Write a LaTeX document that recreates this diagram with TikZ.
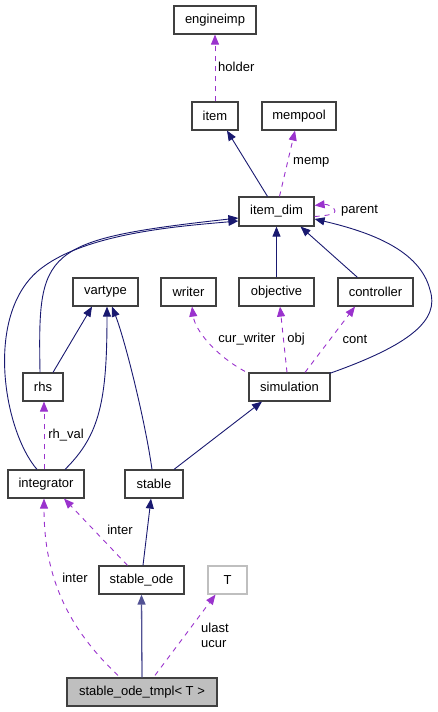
\documentclass[tikz,border=0pt]{standalone}
\usepackage{fontspec}
\setmainfont{Liberation Sans}
\usetikzlibrary{arrows.meta}
\definecolor{navyc}{HTML}{191970}
\definecolor{purp}{HTML}{9A32CD}
\definecolor{boxc}{HTML}{404040}
\tikzset{
  box/.style={draw=boxc, line width=1.2pt, fill=white, minimum height=28pt, inner sep=0pt, font=\fontsize{13}{15}\selectfont},
  inh/.style={draw=navyc, line width=0.9pt, -{Triangle[length=10pt,width=8pt]}},
  usage/.style={draw=purp, line width=0.9pt, dash pattern=on 5pt off 5pt, -{Triangle[length=10pt,width=8pt]}},
  lbl/.style={font=\fontsize{13}{15}\selectfont, inner sep=0pt, text=black}
}
\begin{document}
\begin{tikzpicture}[x=1pt,y=-1pt]
\useasboundingbox (0,0) rectangle (437,712);
% nodes
\node[box, minimum width=82pt] (engineimp) at (215,20) {engineimp};
\node[box, minimum width=46pt] (item) at (215,116) {item};
\node[box, minimum width=74pt] (mempool) at (299,116) {mempool};
\node[box, minimum width=75pt, minimum height=29pt] (itemdim) at (276.5,211.5) {item\_dim};
\node[box, minimum width=65pt] (vartype) at (105.5,292) {vartype};
\node[box, minimum width=55pt] (writer) at (188.5,292) {writer};
\node[box, minimum width=75pt] (objective) at (276.5,292) {objective};
\node[box, minimum width=75pt] (controller) at (375.5,292) {controller};
\node[box, minimum width=40pt] (rhs) at (43,387) {rhs};
\node[box, minimum width=81pt] (simulation) at (289.5,387) {simulation};
\node[box, minimum width=76pt] (integrator) at (46,484) {integrator};
\node[box, minimum width=58pt] (stable) at (154,484) {stable};
\node[box, minimum width=85pt] (stableode) at (141.5,580) {stable\_ode};
\node[box, draw=black!25, minimum width=39pt] (T) at (227.5,580) {T};
\node[box, fill=black!25, minimum width=150pt] (tmpl) at (142,692) {stable\_ode\_tmpl< T >};

% edges
\draw[usage] (item.north) -- (engineimp.south);
\node[lbl, anchor=west] (lholder) at (218,67) {holder};

\draw[inh] ([xshift=-9pt]itemdim.north) -- ([xshift=12pt]item.south);
\draw[usage] ([xshift=3pt]itemdim.north) -- ([xshift=-4pt]mempool.south);
\node[lbl, anchor=west] (lmemp) at (293,162) {memp};

\draw[usage] ([yshift=-5pt]itemdim.east) .. controls (322,216) and (335,215) .. (335,211) .. controls (335,207) and (327,204) .. ([yshift=6pt]itemdim.east);
\node[lbl, anchor=west] (lparent) at (341,211) {parent};

% rhs -> item_dim
\draw[inh] ([xshift=-3pt]rhs.north) .. controls (38,250) and (40,240) .. ([yshift=-6.5pt]itemdim.west);
% integrator -> item_dim
\draw[inh] ([xshift=-9pt]integrator.north) .. controls (3,430) and (-17,310) .. (43,267) .. controls (89,233) and (180,226) .. ([yshift=-9.5pt]itemdim.west);
% objective, controller
\draw[inh] (objective.north) -- (itemdim.south);
\draw[inh] ([xshift=-18pt]controller.north) -- ([xshift=24pt]itemdim.south);
% simulation -> item_dim
\draw[inh] ([xshift=-1pt,yshift=-1pt]simulation.north east) .. controls (410,345) and (440,320) .. (430,290) .. controls (420,250) and (370,232) .. ([yshift=-7.5pt]itemdim.east);

% vartype
\draw[inh] ([xshift=10pt]rhs.north) -- ([xshift=-13.5pt]vartype.south);
\draw[inh] ([xshift=19pt]integrator.north) .. controls (100,435) and (107,400) .. ([xshift=1.5pt]vartype.south);
\draw[inh] ([xshift=-2pt]stable.north) .. controls (145,420) and (125,340) .. ([xshift=6.5pt]vartype.south);

% simulation usages
\draw[usage] ([xshift=-44.5pt,yshift=1pt]simulation.north) .. controls (215,355) and (195,330) .. ([xshift=3.5pt]writer.south);
\node[lbl] (lcw) at (247,339) {cur\_writer};
\draw[usage] ([xshift=-2.5pt]simulation.north) -- ([xshift=3.5pt]objective.south);
\node[lbl] (lobj) at (296,339) {obj};
\draw[usage] ([xshift=15.5pt]simulation.north) -- ([xshift=-20.5pt]controller.south);
\node[lbl] (lcont) at (355,339) {cont};

% stable -> simulation
\draw[inh] ([xshift=20pt]stable.north) -- ([xshift=-27.5pt]simulation.south);

% integrator -> rhs
\draw[usage] ([xshift=-2pt]integrator.north) -- ([xshift=1pt]rhs.south);
\node[lbl] (lrh) at (66,435) {rh\_val};

% stable_ode
\draw[usage] ([xshift=-14pt]stableode.north) -- ([xshift=18pt]integrator.south);
\node[lbl] (linter1) at (120,530) {inter};
\draw[inh] ([xshift=1.5pt]stableode.north) -- ([xshift=-3pt]stable.south);

% tmpl
\draw[usage] ([xshift=-24pt,yshift=2pt]tmpl.north) .. controls (70,630) and (44,580) .. ([xshift=-2pt]integrator.south);
\node[lbl] (linter2) at (75,578) {inter};
\draw[inh, draw=navyc!75, line width=1.3pt] (tmpl.north) -- (stableode.south);
\draw[usage] ([xshift=13pt,yshift=2pt]tmpl.north) -- ([xshift=-12pt]T.south);
\node[lbl, anchor=west, align=left] (lu) at (201,635) {ulast\\ucur};
\end{tikzpicture}
\end{document}
